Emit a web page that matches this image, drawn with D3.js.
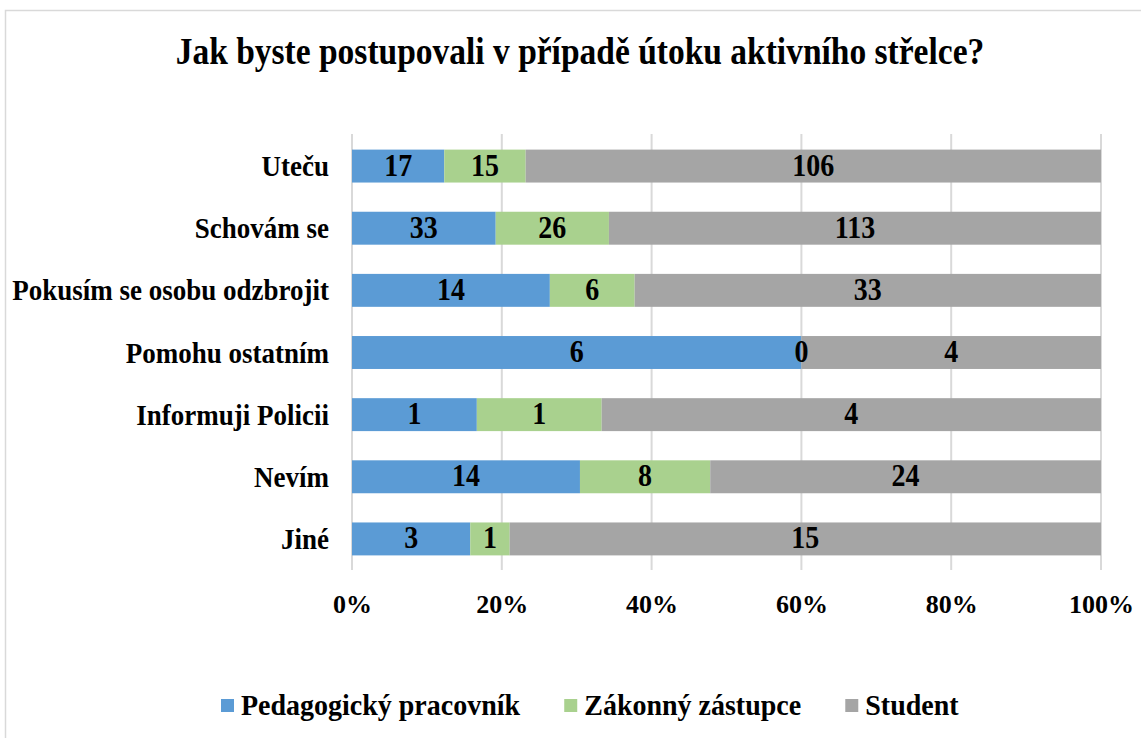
<!DOCTYPE html>
<html><head><meta charset="utf-8">
<script src="https://cdn.jsdelivr.net/npm/d3@7"></script>
<style>body{margin:0;background:#fff}svg{display:block}text{font-family:"Liberation Serif","Times New Roman",serif;font-weight:bold}</style>
</head><body>
<script>
const categories = ["Uteču","Schovám se","Pokusím se osobu odzbrojit","Pomohu ostatním","Informuji Policii","Nevím","Jiné"];
const seriesNames = ["Pedagogický pracovník","Zákonný zástupce","Student"];
const pedagog = [17,33,14,6,1,14,3];
const zastupce = [15,26,6,0,1,8,1];
const student = [106,113,33,4,4,24,15];
const tickValues = [0,0.2,0.4,0.6,0.8,1];
const colors = ["#5B9BD5","#A9D18E","#A5A5A5"];

const W=1141,H=738;
const svg=d3.select("body").append("svg").attr("width",W).attr("height",H);
svg.append("rect").attr("x",5.5).attr("y",10.5).attr("width",W+20).attr("height",H+20).attr("fill","#fff").attr("stroke","#d9d9d9").attr("stroke-width",1.5);

function stretch(sel,k){
  sel.each(function(){
    const t=d3.select(this);
    const xx=+t.attr("x")||0, yy=+t.attr("y")||0;
    const prev=t.attr("transform")||"";
    t.attr("transform",`${prev} translate(${xx},${yy}) scale(1,${k}) translate(${-xx},${-yy})`);
  });
}

const title=svg.append("text").attr("x",580).attr("y",64).attr("text-anchor","middle").attr("font-size",33.5).text("Jak byste postupovali v případě útoku aktivního střelce?");
stretch(title,1.13);

const rows = categories.map((c,i)=>({cat:c, vals:[pedagog[i],zastupce[i],student[i]]}));
const x=d3.scaleLinear().domain([0,1]).range([352,1101]);
const y=d3.scaleBand().domain(categories).range([135,570]).paddingInner(0.47).paddingOuter(0.235);

svg.append("g").selectAll("line").data(tickValues).join("line")
  .attr("x1",d=>x(d)).attr("x2",d=>x(d)).attr("y1",134).attr("y2",570)
  .attr("stroke","#d9d9d9").attr("stroke-width",2);

const segs=[];
rows.forEach(r=>{const tot=d3.sum(r.vals);let acc=0;r.vals.forEach((v,k)=>{segs.push({cat:r.cat,k,v,x0:acc/tot,x1:(acc+v)/tot});acc+=v;});});

svg.append("g").selectAll("rect").data(segs).join("rect")
  .attr("x",d=>x(d.x0)).attr("width",d=>x(d.x1)-x(d.x0))
  .attr("y",d=>y(d.cat)).attr("height",y.bandwidth())
  .attr("fill",d=>colors[d.k]);

const labels=svg.append("g").selectAll("text").data(segs).join("text")
  .attr("x",d=>(x(d.x0)+x(d.x1))/2).attr("y",d=>y(d.cat)+y.bandwidth()/2+9.5)
  .attr("text-anchor","middle").attr("font-size",28).attr("fill","#000")
  .text(d=>d.v);
stretch(labels,1.1);

const yAxis=svg.append("g").call(d3.axisLeft(y).tickSize(0).tickPadding(0));
yAxis.select(".domain").remove();
yAxis.selectAll(".tick").attr("transform",d=>`translate(0,${y(d)+y.bandwidth()/2})`);
const ylab=yAxis.selectAll("text").attr("font-size",27).attr("fill","#000").attr("font-family",null)
  .attr("x",329).attr("y",10).attr("dy",null).attr("text-anchor","end");
stretch(ylab,1.1);

const xAxis=svg.append("g").attr("transform","translate(0,570)").call(d3.axisBottom(x).tickValues(tickValues).tickFormat(d3.format(".0%")).tickSize(0).tickPadding(0));
xAxis.select(".domain").remove();
xAxis.selectAll("text").attr("font-size",26).attr("fill","#000").attr("font-family",null).attr("y",43).attr("dy",null);

const lg=svg.append("g");
let cx=221;
seriesNames.forEach((s,i)=>{
  lg.append("rect").attr("x",cx).attr("y",699).attr("width",13).attr("height",13).attr("fill",colors[i]);
  const t=lg.append("text").attr("x",cx+20).attr("y",715).attr("font-size",28).attr("fill","#000").text(s);
  const w=t.node().getComputedTextLength();
  stretch(t,1.08);
  cx+=20+w+44;
});
</script>
</body></html>
